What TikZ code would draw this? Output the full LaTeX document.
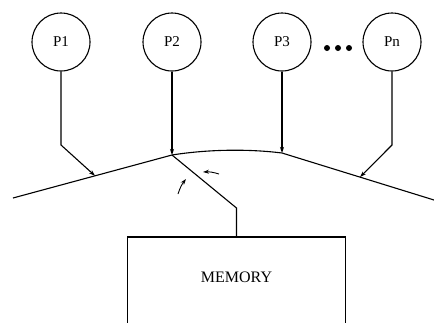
\documentclass[tikz,border=0pt]{standalone}
\usepackage{fontspec}
\setmainfont{Liberation Serif}
\usetikzlibrary{arrows.meta,calc}
\begin{document}
\begin{tikzpicture}[x=1pt,y=-1pt,
  line width=1.1pt,
  proc/.style={draw,circle,minimum size=58pt,inner sep=0pt,font=\fontsize{15}{17}\selectfont},
  tip/.style={-{Stealth[length=6pt,width=4pt]}},
  dot/.style={fill=black,circle,minimum size=6pt,inner sep=0pt}]
\useasboundingbox (0,0) rectangle (434,322);
\clip (0,0) rectangle (434,322);
% processors
\node[proc] (p1) at (61,42) {P1};
\node[proc] (p2) at (172,42) {P2};
\node[proc] (p3) at (282,42) {P3};
\node[proc] (pn) at (392,42) {Pn};
\node[dot] (d1) at (327,48) {};
\node[dot] (d2) at (338,48) {};
\node[dot] (d3) at (349,48) {};
% bus
\coordinate (bl) at (13,198);
\coordinate (j2) at (172,155);
\coordinate (j3) at (282,153);
\coordinate (br) at (434,200);
\draw (bl) -- (j2) .. controls (210,149) and (250,149) .. (j3) -- (br);
\path (bl) -- (j2) coordinate[pos=0.516] (t1);
\path (j3) -- (br) coordinate[pos=0.513] (t4);
% processor connectors
\coordinate (k1) at (61,145);
\coordinate (k4) at (392,145);
\draw[tip] (p1.south) -- (k1) -- (t1);
\draw[tip] (p2.south) -- (j2);
\draw[tip] (p3.south) -- (j3);
\draw[tip] (pn.south) -- (k4) -- (t4);
% memory
\node[minimum width=217pt,minimum height=80pt,anchor=north,font=\fontsize{16}{18}\selectfont] (mem) at (236.5,237) {MEMORY};
\draw ($(mem.north west)+(0,100)$) -- (mem.north west) -- (mem.north east) -- ++(0,100);
\coordinate (km) at (236.5,208);
\draw (j2) -- (km) -- (mem.north);
% direction marks
\coordinate (a1s) at (178,194);
\coordinate (a1e) at (186,179);
\coordinate (a2s) at (219,174);
\coordinate (a2e) at (203,172);
\draw[tip,line width=0.9pt] (a1s) to[bend left=10] (a1e);
\draw[tip,line width=0.9pt] (a2s) to[bend right=10] (a2e);
\end{tikzpicture}
\end{document}
